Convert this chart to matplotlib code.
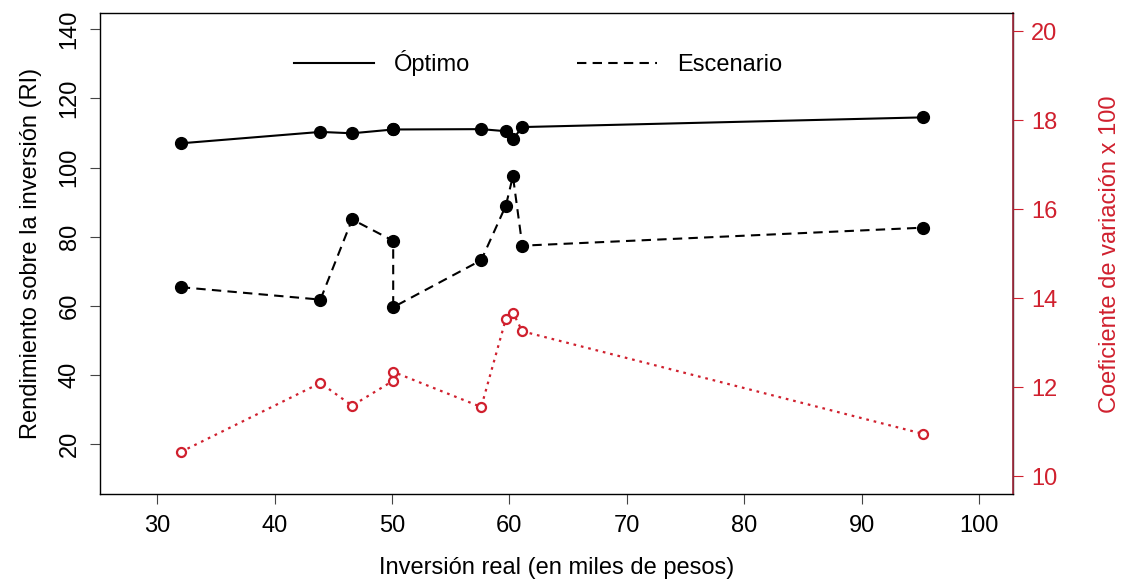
import matplotlib
matplotlib.use("Agg")
import matplotlib.pyplot as plt

plt.rcParams['font.family'] = ['Liberation Sans', 'DejaVu Sans']

# Datos
inversion = [32.0, 43.9, 46.6, 50.1, 50.1, 57.6, 59.7, 60.3, 61.1, 95.2]
optimo = [107.0, 110.3, 109.9, 111.0, 111.0, 111.1, 110.5, 108.2, 111.7, 114.5]
escenario = [65.4, 61.8, 85.0, 78.8, 59.6, 73.2, 89.0, 97.5, 77.4, 82.6]
coef_var = [10.55, 12.10, 11.59, 12.15, 12.35, 11.56, 13.54, 13.68, 13.26, 10.96]

x_ticks = [30, 40, 50, 60, 70, 80, 90, 100]
y_ticks = [20, 40, 60, 80, 100, 120, 140]
cv_ticks = [10, 12, 14, 16, 18, 20]

rojo = '#D0202E'
fs = 17

fig = plt.figure(figsize=(11.26, 5.84), dpi=100)
ax = fig.add_axes([100 / 1126, 1 - 494.3 / 584, 912.7 / 1126, 481 / 584])

l1, = ax.plot(inversion, optimo, color='black', lw=1.5, label='Óptimo')
ax.plot(inversion, optimo, 'o', color='black', ms=8.5)
l2, = ax.plot(inversion, escenario, color='black', lw=1.5, dashes=(4.5, 3), label='Escenario')
ax.plot(inversion, escenario, 'o', color='black', ms=8.5)

ax.set_xlim(25.12, 102.88)
ax.set_ylim(5.5, 144.6)
ax.set_xticks(x_ticks)
ax.set_yticks(y_ticks)
ax.tick_params(axis='both', direction='out', length=7, width=0.8, color='#444444',
               labelsize=fs, pad=8)
ax.tick_params(axis='y', labelrotation=90, pad=7)
for lab in ax.get_yticklabels():
    lab.set_va('center')
for s in ax.spines.values():
    s.set_linewidth(1.0)
    s.set_color('#333333')

ax.set_xlabel('Inversión real (en miles de pesos)', fontsize=fs, labelpad=14)
ax.set_ylabel('Rendimiento sobre la inversión (RI)', fontsize=fs, labelpad=12)

ax2 = ax.twinx()
ax2.plot(inversion, coef_var, color=rojo, lw=1.6, dashes=(1.2, 2.2))
ax2.plot(inversion, coef_var, 'o', mfc='white', mec=rojo, mew=1.6, ms=6.5)
ax2.set_ylim(9.6, 20.4)
ax2.set_yticks(cv_ticks)
ax2.tick_params(axis='y', direction='out', length=7, width=0.8, color=rojo,
                labelcolor=rojo, labelsize=fs, pad=6)
ax2.spines['right'].set_color('#A0283A')
ax2.spines['right'].set_linewidth(1.2)
ax2.set_ylabel('Coeficiente de variación x 100', fontsize=fs, color=rojo, labelpad=30)

ax.legend(handles=[l1, l2], ncol=2, frameon=False, fontsize=fs,
          loc='center left', bbox_to_anchor=(294 / 1126, 1 - 63 / 584),
          bbox_transform=fig.transFigure, borderaxespad=0, borderpad=0,
          handlelength=3.4, handletextpad=0.85, columnspacing=4.5)

fig.savefig('out.png', dpi=100)
